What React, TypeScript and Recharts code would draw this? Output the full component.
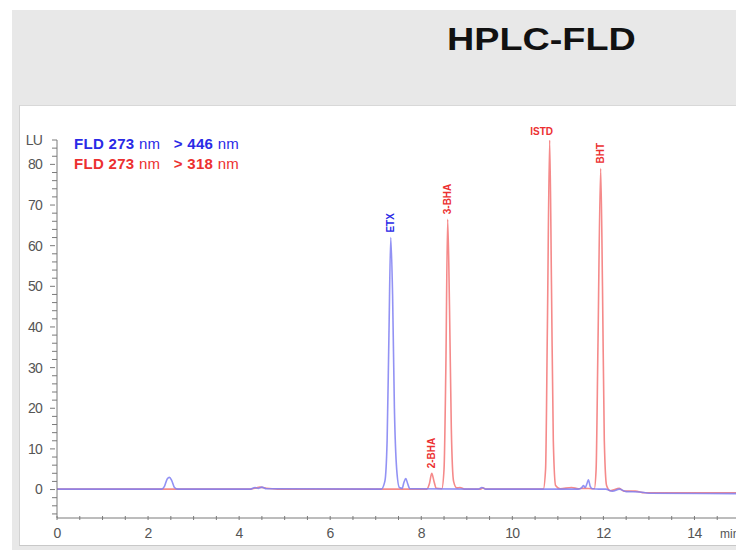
import { LineChart, Line, XAxis, YAxis, ReferenceDot } from "recharts";

// FLD 273 nm > 446 nm (blue trace)
const blueTimes = [0, 2.3, 2.36, 2.42, 2.47, 2.52, 2.58, 2.65, 4.25, 4.35, 4.42, 4.5, 4.6, 7.12, 7.2, 7.25, 7.29, 7.33, 7.37, 7.41, 7.46, 7.52, 7.58, 7.62, 7.66, 7.7, 7.75, 9.25, 9.33, 9.42, 11.45, 11.52, 11.56, 11.6, 11.64, 11.67, 11.71, 11.76, 11.9, 12.05, 12.2, 12.35, 12.5, 12.8, 13.0, 15];
const blueValues = [0.1, 0.1, 0.8, 2.6, 3.0, 2.2, 0.5, 0.1, 0.1, 0.5, 0.3, 0.6, 0.2, 0.1, 2, 12, 38, 62, 48, 20, 5, 0.5, 0.3, 1.8, 2.7, 1.5, 0.2, 0.1, 0.5, 0.1, 0.1, 0.4, 1.0, 0.5, 1.5, 2.4, 0.8, 0.2, 0.1, 0.1, -0.4, 0.1, -0.5, -0.6, -0.9, -1.0];

// FLD 273 nm > 318 nm (red trace)
const redTimes = [0, 4.25, 4.38, 4.45, 4.6, 4.85, 8.12, 8.18, 8.23, 8.28, 8.33, 8.45, 8.5, 8.54, 8.58, 8.62, 8.66, 8.71, 8.78, 8.85, 8.95, 9.3, 9.35, 9.42, 10.68, 10.73, 10.77, 10.82, 10.86, 10.9, 10.95, 11.05, 11.3, 11.45, 11.55, 11.8, 11.84, 11.88, 11.94, 11.98, 12.02, 12.07, 12.15, 12.35, 12.45, 12.7, 12.9, 15];
const redValues = [0.1, 0.1, 0.4, 0.6, 0.3, 0.1, 0.1, 1.5, 4.0, 2, 0.3, 0.2, 5, 30, 66.5, 45, 15, 2, 0.4, 0.5, 0.1, 0.1, 0.4, 0.1, 0.1, 5, 40, 86, 50, 12, 1, 0.2, 0.5, 0.2, 0.3, 0.2, 5, 35, 79, 50, 12, 1, -0.3, 0.3, -0.4, -0.4, -0.8, -0.8];

// peak annotations
const peakNames = ["ETX", "2-BHA", "3-BHA", "ISTD", "BHT"];
const peakTimes = [7.33, 8.23, 8.58, 10.82, 11.94];
const peakHeights = [62, 4.0, 66.5, 86, 79];
const peakTrace = ["blue", "red", "red", "red", "red"];

const xTicks = [0, 0.5, 1, 1.5, 2, 2.5, 3, 3.5, 4, 4.5, 5, 5.5, 6, 6.5, 7, 7.5, 8, 8.5, 9, 9.5, 10, 10.5, 11, 11.5, 12, 12.5, 13, 13.5, 14, 14.5, 15];
const yTicks = [-6, -4, -2, 0, 2, 4, 6, 8, 10, 12, 14, 16, 18, 20, 22, 24, 26, 28, 30, 32, 34, 36, 38, 40, 42, 44, 46, 48, 50, 52, 54, 56, 58, 60, 62, 64, 66, 68, 70, 72, 74, 76, 78, 80, 82, 84, 86];

const blueData = blueTimes.map((t, i) => ({ t, v: blueValues[i] }));
const redData = redTimes.map((t, i) => ({ t, v: redValues[i] }));

const BLUE_LINE = "#7f7ff2";
const RED_LINE = "#f58a8a";
const BLUE_TEXT = "#2a2ae6";
const RED_TEXT = "#ec3030";
const AXIS = "#7a7a7a";
const FONT = "Arial, 'Liberation Sans', sans-serif";

function YTick(props: any) {
  const { x, y, payload } = props;
  const v = payload.value;
  const major = v % 10 === 0 && v >= 0;
  const top = v === 86;
  return (
    <g>
      <line x1={x - (major ? 5 : 3)} x2={x + (major ? 0 : 2)} y1={y} y2={y} stroke={AXIS} />
      {(major || top) && (
        <text x={x - 13} y={y} dy="0.35em" textAnchor="end" fontSize={14} letterSpacing={-0.8} fill="#555" fontFamily={FONT}>
          {top ? "LU" : v}
        </text>
      )}
    </g>
  );
}

function XTick(props: any) {
  const { x, y, payload } = props;
  const v = payload.value;
  const labelled = Number.isInteger(v) && v % 2 === 0;
  return (
    <g>
      <line x1={x} x2={x} y1={y} y2={y - 4} stroke={AXIS} />
      {labelled && (
        <text x={x} y={y + 18} textAnchor="middle" fontSize={14} letterSpacing={-0.6} fill="#555" fontFamily={FONT}>
          {v}
        </text>
      )}
      {v === 15 && (
        <text x={x - 20} y={y + 18} fontSize={12} fill="#555" fontFamily={FONT}>
          min
        </text>
      )}
    </g>
  );
}

function PeakLabel(props: any) {
  const { cx, cy, name, color } = props;
  if (name === "ISTD") {
    return (
      <text x={cx - 8} y={cy - 5} textAnchor="middle" fontSize={10} fontWeight="bold" fill={color} fontFamily={FONT}>
        {name}
      </text>
    );
  }
  return (
    <text
      x={cx}
      y={cy - 5}
      transform={`rotate(-90 ${cx} ${cy - 5})`}
      dy="0.35em"
      textAnchor="start"
      fontSize={10}
      fontWeight="bold"
      fill={color}
      fontFamily={FONT}
    >
      {name}
    </text>
  );
}

export default function App() {
  return (
    <div style={{ position: "absolute", left: 0, top: 0, width: 736, height: 550, background: "#fff", overflow: "hidden", fontFamily: FONT }}>
      <div style={{ position: "absolute", left: 12, top: 10, width: 724, height: 540, background: "#e8e8e8" }} />
      <div style={{ position: "absolute", left: 19, top: 105, width: 717, height: 439, background: "#fff", borderLeft: "1px solid #d2d2d2", borderTop: "1px solid #d8d8d8", borderBottom: "1px solid #c8c8c8" }} />
      <div style={{ position: "absolute", left: 447, top: 21, fontSize: 32, fontWeight: "bold", color: "#111", transform: "scaleX(1.18)", transformOrigin: "left top", whiteSpace: "nowrap" }}>
        HPLC-FLD
      </div>
      <div style={{ position: "absolute", left: 74, top: 134, fontSize: 15, lineHeight: "20px", letterSpacing: 0.3, whiteSpace: "nowrap" }}>
        <div style={{ color: BLUE_TEXT }}>
          <b>FLD 273</b> nm&nbsp;&nbsp;&nbsp;<b>&gt; 446</b> nm
        </div>
        <div style={{ color: RED_TEXT }}>
          <b>FLD 273</b> nm&nbsp;&nbsp;&nbsp;<b>&gt; 318</b> nm
        </div>
      </div>
      <div style={{ position: "absolute", left: 0, top: 0 }}>
        <LineChart width={740} height={550} margin={{ top: 140, right: 0, bottom: 0, left: 0 }}>
          <XAxis
            type="number"
            dataKey="t"
            domain={[0, 15]}
            ticks={xTicks}
            interval={0}
            height={32}
            tickSize={0}
            tickLine={false}
            tick={<XTick />}
            stroke={AXIS}
            allowDataOverflow
          />
          <YAxis
            type="number"
            dataKey="v"
            domain={[-7, 86]}
            ticks={yTicks}
            interval={0}
            width={57}
            tickSize={0}
            tickLine={false}
            tick={<YTick />}
            stroke={AXIS}
            allowDataOverflow
          />
          <Line data={redData} dataKey="v" type="monotone" stroke={RED_LINE} strokeWidth={1.6} dot={false} isAnimationActive={false} />
          <Line data={blueData} dataKey="v" type="monotone" stroke={BLUE_LINE} strokeWidth={1.6} strokeOpacity={0.85} dot={false} isAnimationActive={false} />
          {peakNames.map((n, i) => (
            <ReferenceDot
              key={n}
              x={peakTimes[i]}
              y={peakHeights[i]}
              r={0}
              ifOverflow="visible"
              shape={(p: any) => (
                <PeakLabel cx={p.cx} cy={p.cy} name={n} color={peakTrace[i] === "blue" ? BLUE_TEXT : RED_TEXT} />
              )}
            />
          ))}
        </LineChart>
      </div>
    </div>
  );
}
